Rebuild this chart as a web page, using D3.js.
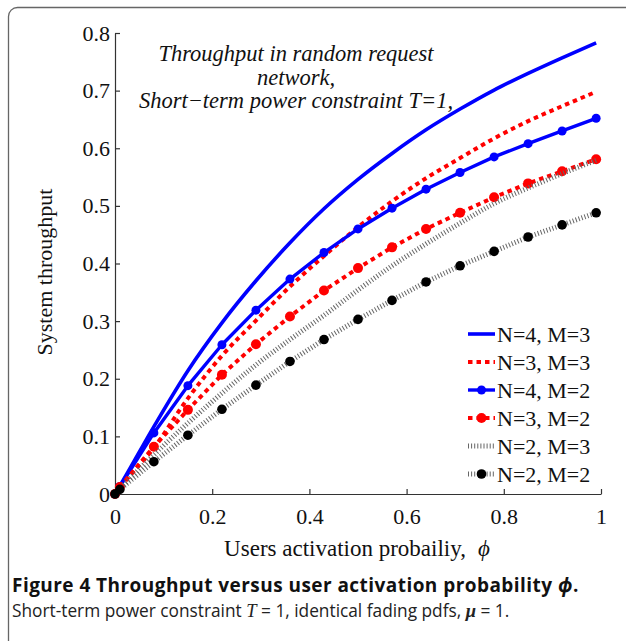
<!DOCTYPE html>
<html>
<head>
<meta charset="utf-8">
<script src="https://cdn.jsdelivr.net/npm/d3@7"></script>
<style>
  body { margin: 0; background: #fff; }
  svg { display: block; }
</style>
</head>
<body>
<div id="chart"></div>
<script>
// activation probability grid (same for all curves)
var phi = [0, 0.01, 0.08, 0.15, 0.22, 0.29, 0.36, 0.43, 0.50, 0.57, 0.64, 0.71, 0.78, 0.85, 0.92, 0.99];

var n4m3 = [0, 0.014, 0.117, 0.214, 0.297, 0.370, 0.436, 0.495, 0.546, 0.591, 0.632, 0.668, 0.701, 0.730, 0.757, 0.783];
var n3m3 = [0, 0.011, 0.080, 0.166, 0.240, 0.301, 0.360, 0.413, 0.463, 0.508, 0.548, 0.583, 0.617, 0.647, 0.673, 0.698];
var n4m2 = [0, 0.013, 0.106, 0.188, 0.259, 0.319, 0.373, 0.419, 0.460, 0.496, 0.529, 0.558, 0.585, 0.608, 0.630, 0.652];
var n3m2 = [0, 0.012, 0.082, 0.146, 0.207, 0.260, 0.308, 0.353, 0.392, 0.428, 0.460, 0.488, 0.515, 0.539, 0.560, 0.581];
var n2m3 = [0, 0.009, 0.068, 0.123, 0.175, 0.224, 0.268, 0.310, 0.354, 0.396, 0.434, 0.470, 0.504, 0.531, 0.556, 0.579];
var n2m2 = [0, 0.008, 0.056, 0.102, 0.147, 0.189, 0.230, 0.268, 0.303, 0.336, 0.368, 0.396, 0.421, 0.446, 0.467, 0.488];

var seriesNames = ["N=4, M=3", "N=3, M=3", "N=4, M=2", "N=3, M=2", "N=2, M=3", "N=2, M=2"];
var xTicks = [0, 0.2, 0.4, 0.6, 0.8, 1];
var yTicks = [0, 0.1, 0.2, 0.3, 0.4, 0.5, 0.6, 0.7, 0.8];
var titleLines = ["Throughput in random request", "network,", "Short\u2212term power constraint T=1,"];

// line styles per series
var styles = [
  {values: n4m3, color: "#0000ff", width: 3.6, dash: null, marker: false, curve: d3.curveMonotoneX},
  {values: n3m3, color: "#ff0000", width: 4, dash: "4.5,4", marker: false, curve: d3.curveMonotoneX},
  {values: n4m2, color: "#0000ff", width: 3.4, dash: null, marker: "#0000ff", r: 4.5, curve: d3.curveLinear},
  {values: n3m2, color: "#ff0000", width: 4, dash: "4.5,4", marker: "#ff0000", r: 5, curve: d3.curveLinear},
  {values: n2m3, color: "#666", width: 5, dash: "1,2.1", marker: false, curve: d3.curveMonotoneX},
  {values: n2m2, color: "#666", width: 5, dash: "1,2.1", marker: "#000", r: 4.8, curve: d3.curveLinear}
];

var width = 626, height = 641;
var svg = d3.select("#chart").append("svg")
    .attr("width", width)
    .attr("height", height);

// frame around the figure
svg.append("rect")
    .attr("x", 8.5).attr("y", 7.5)
    .attr("width", 700).attr("height", 700)
    .attr("rx", 9)
    .attr("fill", "none")
    .attr("stroke", "#666")
    .attr("stroke-width", 1.3);

var x = d3.scaleLinear().domain([0, 1]).range([115, 601]);
var y = d3.scaleLinear().domain([0, 0.8]).range([494, 33]);

var serif = "'Liberation Serif', 'Times New Roman', serif";

// axes
var xAxis = d3.axisBottom(x).tickValues(xTicks).tickSizeInner(-5).tickSizeOuter(0)
    .tickFormat(function(d){ return d3.format("")(d); });
var yAxis = d3.axisLeft(y).tickValues(yTicks).tickSizeInner(-5).tickSizeOuter(0)
    .tickFormat(function(d){ return d3.format("")(d); });

var gx = svg.append("g").attr("transform", "translate(0,494)").call(xAxis);
var gy = svg.append("g").attr("transform", "translate(115,0)").call(yAxis);

[gx, gy].forEach(function(g){
    g.select(".domain").attr("stroke", "#333").attr("stroke-width", 1.2);
    g.selectAll(".tick line").attr("stroke", "#333").attr("stroke-width", 1.2);
    g.selectAll(".tick text")
        .attr("font-family", serif)
        .attr("font-size", 22)
        .attr("fill", "#111");
});
gx.selectAll(".tick text").attr("y", 14).attr("dy", "0.71em");
gy.selectAll(".tick text").attr("x", -5).attr("dy", "0.32em");

// curves
styles.forEach(function(s){
    var pts = phi.map(function(p, i){ return [p, s.values[i]]; });
    var line = d3.line()
        .x(function(d){ return x(d[0]); })
        .y(function(d){ return y(d[1]); })
        .curve(s.curve);
    svg.append("path")
        .datum(pts)
        .attr("d", line)
        .attr("fill", "none")
        .attr("stroke", s.color)
        .attr("stroke-width", s.width)
        .attr("stroke-dasharray", s.dash)
        .attr("stroke-linejoin", "round");
    if (s.marker) {
        svg.append("g").selectAll("circle")
            .data(pts)
            .enter().append("circle")
            .attr("cx", function(d){ return x(d[0]); })
            .attr("cy", function(d){ return y(d[1]); })
            .attr("r", s.r)
            .attr("fill", s.marker);
    }
});

// title inside the axes
var title = svg.append("text")
    .attr("font-family", serif)
    .attr("font-style", "italic")
    .attr("font-size", 22.5)
    .attr("fill", "#111")
    .attr("text-anchor", "middle");
titleLines.forEach(function(t, i){
    title.append("tspan").attr("x", 296).attr("y", 61 + i * 23.5).text(t);
});

// legend
var legend = svg.append("g");
styles.forEach(function(s, i){
    var ly = 334 + i * 28;
    legend.append("line")
        .attr("x1", 468).attr("x2", 495)
        .attr("y1", ly).attr("y2", ly)
        .attr("stroke", s.color)
        .attr("stroke-width", s.width)
        .attr("stroke-dasharray", s.dash);
    if (s.marker) {
        legend.append("circle")
            .attr("cx", 481.5).attr("cy", ly).attr("r", s.r)
            .attr("fill", s.marker);
    }
    legend.append("text")
        .attr("x", 497).attr("y", ly + 7.5)
        .attr("font-family", serif)
        .attr("font-size", 22)
        .attr("fill", "#111")
        .text(seriesNames[i]);
});

// axis labels
var xl = svg.append("text")
    .attr("x", 357).attr("y", 556)
    .attr("text-anchor", "middle")
    .attr("font-family", serif)
    .attr("font-size", 23)
    .attr("fill", "#111");
xl.append("tspan").text("Users activation probailiy,");
xl.append("tspan").attr("dx", 12).attr("font-style", "italic").text("\u03d5");

svg.append("text")
    .attr("transform", "translate(52,272) rotate(-90)")
    .attr("text-anchor", "middle")
    .attr("font-family", serif)
    .attr("font-size", 22)
    .attr("fill", "#111")
    .text("System throughput");

// figure caption
var sans = "'Open Sans', 'Noto Sans', sans-serif";
var cap1 = svg.append("text")
    .attr("x", 12).attr("y", 592)
    .attr("font-family", sans)
    .attr("font-size", 19)
    .attr("letter-spacing", 0.45)
    .attr("font-weight", "bold")
    .attr("fill", "#111");
cap1.append("tspan").text("Figure 4 Throughput versus user activation probability ");
cap1.append("tspan").attr("font-style", "italic").text("\u03d5");
cap1.append("tspan").text(".");

var cap2 = svg.append("text")
    .attr("x", 12).attr("y", 617)
    .attr("font-family", sans)
    .attr("font-size", 17.3)
    .attr("fill", "#222");
cap2.append("tspan").text("Short-term power constraint ");
cap2.append("tspan").attr("font-family", serif).attr("font-style", "italic").attr("font-size", 18.5).text("T");
cap2.append("tspan").text(" = 1, identical fading pdfs, ");
cap2.append("tspan").attr("font-family", serif).attr("font-style", "italic").attr("font-weight", "bold").attr("font-size", 18.5).text("\u03bc");
cap2.append("tspan").text(" = 1.");
</script>
</body>
</html>
